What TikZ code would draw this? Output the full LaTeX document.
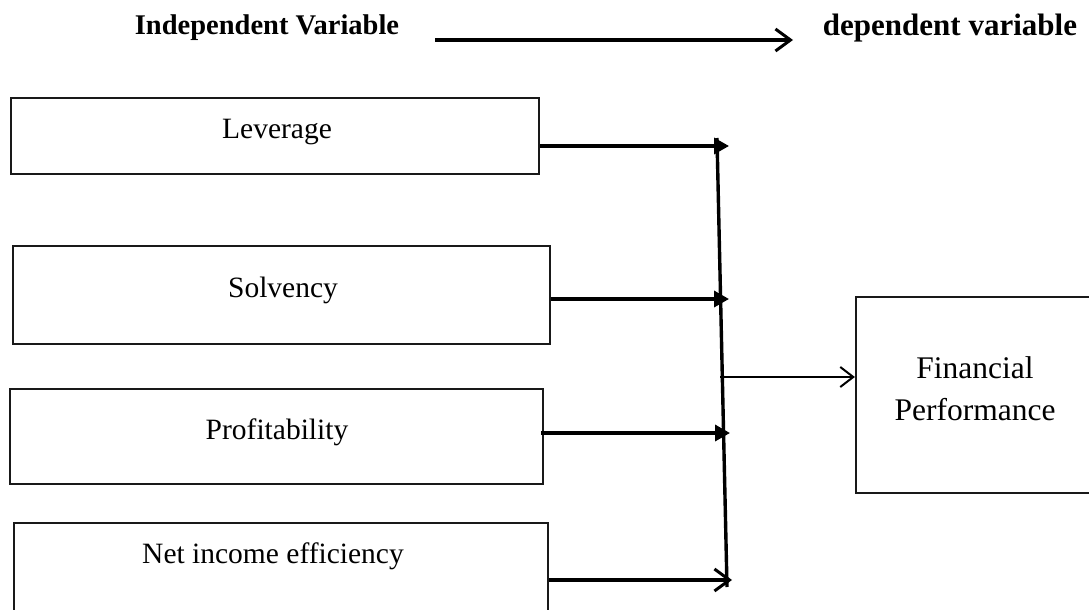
\documentclass[tikz,border=0pt]{standalone}
\usepackage{fontspec}
\setmainfont{Liberation Serif}
\usetikzlibrary{arrows.meta,calc}
\begin{document}
\begin{tikzpicture}[x=1pt,y=-1pt,
  box/.style={draw=black!90,line width=2.2pt,rectangle,inner sep=0pt},
  lbl/.style={font=\fontsize{29.5}{34}\selectfont,inner sep=0pt},
  ttl/.style={font=\fontsize{28.5}{32}\selectfont\bfseries,inner sep=0pt},
  fat/.style={line width=3.4pt},
  tri/.style={-{Triangle[length=15pt,width=16pt]}},
  barb/.style={-{Straight Barb[length=15pt,width=22pt,line width=3pt]}},
  thin barb/.style={-{Straight Barb[length=13pt,width=20pt,line width=2pt]}}]
\clip (0,0) rectangle (1089,610);
\fill[white] (0,0) rectangle (1089,610);
% titles
\node[ttl] (ind) at (267,28) {Independent Variable};
\node[ttl,font=\fontsize{31}{34}\selectfont\bfseries] (dep) at (950,28) {dependent variable};
\coordinate (ta) at (435,40);
\coordinate (tb) at (793,40);
\draw[fat,barb] (ta) -- (tb);
% boxes
\node[box,minimum width=528pt,minimum height=76pt] (lev) at (275,136) {};
\node[box,minimum width=537pt,minimum height=98pt] (sol) at (281.5,295) {};
\node[box,minimum width=533pt,minimum height=95pt] (pro) at (276.5,436.5) {};
\node[box,minimum width=534pt,minimum height=110pt] (net) at (281,578) {};
\node[box,minimum width=240pt,minimum height=196pt] (fin) at (976,395) {};
% texts
\node[lbl] (levt) at (277,132) {Leverage};
\node[lbl] (solt) at (283,290) {Solvency};
\node[lbl] (prot) at (277,432) {Profitability};
\node[lbl] (nett) at (273,556) {Net income efficiency};
\node[lbl,align=center,font=\fontsize{31.5}{42}\selectfont] (fint) at (975,389) {Financial\\Performance};
% collector line
\coordinate (vt) at (717,138);
\coordinate (vb) at (727,587);
\draw[fat] (vt) -- (vb);
% arrow tips
\coordinate (t1) at (729,146);
\coordinate (t2) at (729,299);
\coordinate (t3) at (730,433);
\coordinate (t4) at (732,580);
\draw[fat,tri] (lev.east |- t1) -- (t1);
\draw[fat,tri] (sol.east |- t2) -- (t2);
\draw[fat,tri] ([xshift=-3pt]pro.east |- t3) -- (t3);
\draw[fat,barb] (net.east |- t4) -- (t4);
% to dependent
\coordinate (m) at (720,377);
\draw[line width=2pt,thin barb] (m) -- (m -| fin.west);
\end{tikzpicture}
\end{document}
